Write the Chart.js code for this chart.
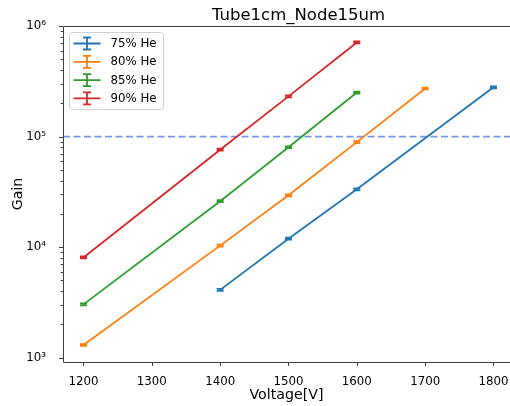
<!DOCTYPE html>
<html>
<head>
<meta charset="utf-8">
<script src="https://cdn.jsdelivr.net/npm/chart.js@4"></script>
<style>
html, body { margin: 0; padding: 0; overflow: hidden; background: #fff; }
</style>
</head>
<body>
<canvas id="chart" width="510" height="406"></canvas>
<script>
// Gain vs voltage for the four He mixtures
const labels = ['75% He', '80% He', '85% He', '90% He'];
const colors = ['#1f77b4', '#ff7f0e', '#2ca02c', '#d62728'];

const volts75 = [1400, 1500, 1600, 1800];
const gain75 = [4100, 11900, 33300, 279000];
const err75 = [80, 240, 670, 5600];

const volts80 = [1200, 1400, 1500, 1600, 1700];
const gain80 = [1300, 10300, 29400, 89000, 272000];
const err80 = [26, 210, 590, 1800, 5400];

const volts85 = [1200, 1400, 1500, 1600];
const gain85 = [3030, 26000, 80000, 250000];
const err85 = [60, 520, 1600, 5000];

const volts90 = [1200, 1400, 1500, 1600];
const gain90 = [8050, 76000, 231000, 710000];
const err90 = [160, 1500, 4600, 14000];

const xTicks = [1200, 1300, 1400, 1500, 1600, 1700, 1800];
const threshold = 100000;

const seriesVolts = [volts75, volts80, volts85, volts90];
const seriesGain = [gain75, gain80, gain85, gain90];
const seriesErr = [err75, err80, err85, err90];

const FONT = 'DejaVu Sans';
const SUP = {'0':'\u2070','1':'\u00b9','2':'\u00b2','3':'\u00b3','4':'\u2074','5':'\u2075','6':'\u2076','7':'\u2077','8':'\u2078','9':'\u2079'};

function isPow10(v) {
    const l = Math.log10(v);
    return Math.abs(l - Math.round(l)) < 1e-9;
}

const datasets = labels.map((name, i) => ({
    label: name,
    data: seriesVolts[i].map((x, j) => ({ x: x, y: seriesGain[i][j] })),
    borderColor: colors[i],
    backgroundColor: colors[i],
    borderWidth: 1.8,
    pointRadius: 0,
    tension: 0,
    fill: false
}));

// threshold line, error bars, ticks, frame, title, legend
const extras = {
    id: 'extras',
    beforeDatasetsDraw(chart) {
        const ctx = chart.ctx, a = chart.chartArea;
        const y = chart.scales.y.getPixelForValue(threshold);
        ctx.save();
        ctx.strokeStyle = 'rgba(65,105,225,0.7)';
        ctx.lineWidth = 1.8;
        ctx.setLineDash([7, 3.5]);
        ctx.beginPath();
        ctx.moveTo(a.left, y);
        ctx.lineTo(a.right, y);
        ctx.stroke();
        ctx.restore();
    },
    afterDatasetsDraw(chart) {
        const ctx = chart.ctx, xs = chart.scales.x, ys = chart.scales.y;
        ctx.save();
        ctx.lineWidth = 1.8;
        seriesVolts.forEach((vs, i) => {
            ctx.strokeStyle = colors[i];
            vs.forEach((v, j) => {
                const px = xs.getPixelForValue(v);
                const g = seriesGain[i][j], e = seriesErr[i][j];
                const top = ys.getPixelForValue(g + e);
                const bot = ys.getPixelForValue(g - e);
                ctx.beginPath();
                ctx.moveTo(px, top); ctx.lineTo(px, bot);
                ctx.moveTo(px - 3.5, top); ctx.lineTo(px + 3.5, top);
                ctx.moveTo(px - 3.5, bot); ctx.lineTo(px + 3.5, bot);
                ctx.stroke();
            });
        });
        ctx.restore();
    },
    afterDraw(chart) {
        const ctx = chart.ctx, a = chart.chartArea;
        const xs = chart.scales.x, ys = chart.scales.y;
        ctx.save();
        ctx.strokeStyle = '#404040';
        ctx.lineWidth = 1;
        // frame (right spine falls outside the picture)
        ctx.beginPath();
        ctx.moveTo(a.right + 5, a.top + 0.5);
        ctx.lineTo(a.left + 0.5, a.top + 0.5);
        ctx.lineTo(a.left + 0.5, a.bottom + 0.5);
        ctx.lineTo(a.right + 5, a.bottom + 0.5);
        ctx.stroke();
        // y ticks (major + minor)
        ctx.beginPath();
        ys.ticks.forEach(t => {
            const v = t.value;
            if (v < ys.min || v > ys.max) return;
            const s = v / Math.pow(10, Math.floor(Math.log10(v) + 1e-9));
            if (Math.abs(s - Math.round(s)) > 1e-6) return;
            const py = Math.round(ys.getPixelForValue(v)) + 0.5;
            const len = isPow10(v) ? 4 : 2.4;
            ctx.moveTo(a.left, py); ctx.lineTo(a.left - len, py);
        });
        // x ticks
        xs.ticks.forEach(t => {
            const px = Math.round(xs.getPixelForValue(t.value)) + 0.5;
            ctx.moveTo(px, a.bottom); ctx.lineTo(px, a.bottom + 4);
        });
        ctx.stroke();

        // title
        ctx.fillStyle = '#000';
        ctx.font = '16.5px "' + FONT + '"';
        ctx.textAlign = 'center';
        ctx.textBaseline = 'alphabetic';
        ctx.fillText('Tube1cm_Node15um', 298.5, 19.5);

        // legend
        const bx = a.left + 6.5, by = a.top + 6.5, bw = 94, bh = 77;
        ctx.fillStyle = 'rgba(255,255,255,0.8)';
        ctx.strokeStyle = '#d0d0d0';
        ctx.lineWidth = 1;
        ctx.beginPath();
        ctx.roundRect(bx, by, bw, bh, 3);
        ctx.fill();
        ctx.stroke();
        ctx.font = '11.8px "' + FONT + '"';
        ctx.textAlign = 'left';
        ctx.textBaseline = 'middle';
        labels.forEach((name, i) => {
            const cy = by + 11 + i * 18.3;
            ctx.strokeStyle = colors[i];
            ctx.lineWidth = 1.8;
            ctx.beginPath();
            ctx.moveTo(bx + 4, cy); ctx.lineTo(bx + 31, cy);
            ctx.moveTo(bx + 17.5, cy - 6); ctx.lineTo(bx + 17.5, cy + 6);
            ctx.moveTo(bx + 13.5, cy - 6); ctx.lineTo(bx + 21.5, cy - 6);
            ctx.moveTo(bx + 13.5, cy + 6); ctx.lineTo(bx + 21.5, cy + 6);
            ctx.stroke();
            ctx.fillStyle = '#000';
            ctx.fillText(name, bx + 41, cy + 0.5);
        });
        ctx.restore();
    }
};

new Chart(document.getElementById('chart'), {
    type: 'line',
    data: { datasets: datasets },
    plugins: [extras],
    options: {
        responsive: false,
        animation: false,
        devicePixelRatio: 1,
        layout: { padding: { top: 26, right: 0, left: 0, bottom: 0 } },
        plugins: {
            legend: { display: false },
            title: { display: false },
            tooltip: { enabled: false }
        },
        scales: {
            x: {
                type: 'linear',
                min: 1170,
                max: 1824.2,
                afterFit(scale) {
                    scale.height = 44;
                    scale.paddingLeft = 0;
                    scale.paddingRight = 0;
                },
                afterBuildTicks(scale) { scale.ticks = xTicks.map(v => ({ value: v })); },
                grid: { display: false },
                border: { display: false },
                ticks: {
                    color: '#000',
                    font: { family: FONT, size: 11.8 },
                    padding: 5,
                    maxRotation: 0,
                    autoSkip: false,
                    callback: v => String(v)
                },
                title: {
                    display: true,
                    text: 'Voltage[V]',
                    color: '#000',
                    font: { family: FONT, size: 14.2 },
                    padding: { top: 0, bottom: 2 }
                }
            },
            y: {
                type: 'logarithmic',
                min: 912,
                max: 1000000,
                afterFit(scale) {
                    scale.width = 63;
                    scale.paddingTop = 0;
                    scale.paddingBottom = 0;
                },
                grid: { display: false },
                border: { display: false },
                ticks: {
                    color: '#000',
                    font: { family: FONT, size: 11.8 },
                    padding: 9,
                    autoSkip: false,
                    callback: v => {
                        if (!isPow10(v)) return '';
                        const e = String(Math.round(Math.log10(v)));
                        return '10' + e.split('').map(c => SUP[c]).join('');
                    }
                },
                title: {
                    display: true,
                    text: 'Gain',
                    color: '#000',
                    font: { family: FONT, size: 14.2 },
                    padding: { top: 10, bottom: 0 }
                }
            }
        }
    }
});
</script>
</body>
</html>
